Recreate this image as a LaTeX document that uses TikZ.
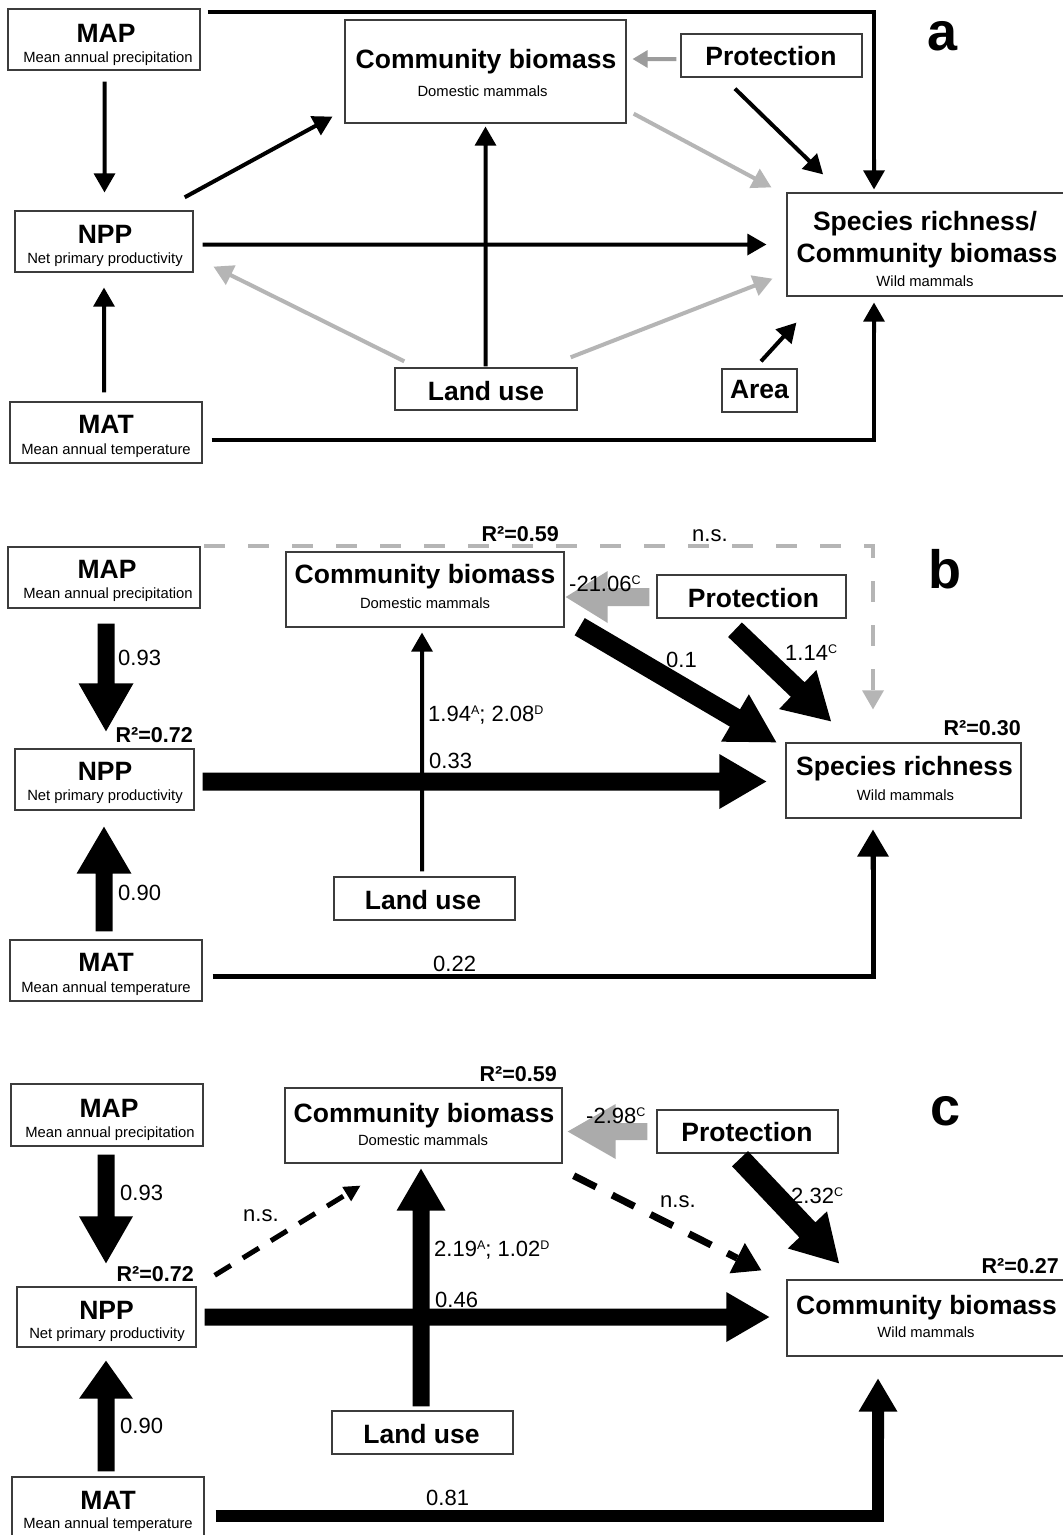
\documentclass[tikz,border=0pt]{standalone}
\usepackage{fontspec}
\usepackage{graphicx}
\setmainfont{Liberation Sans}
\usetikzlibrary{calc}

\definecolor{boxline}{HTML}{3C3C3C}
\definecolor{lightarrow}{HTML}{B5B5B5}
\definecolor{midarrow}{HTML}{9C9C9C}
\definecolor{bigarrow}{HTML}{ABABAB}

% filled block arrow: [colour]{start}{tip}{shaft width}{head width}{head length}
\newcommand\blockarrow[6][black]{%
  \coordinate (baS) at #2;
  \coordinate (baE) at #3;
  \coordinate (baH) at ($(baE)!#6!(baS)$);
  \fill[#1] ($(baS)!#4/2!90:(baE)$) -- ($(baH)!#4/2!90:(baE)$)
    -- ($(baH)!#5/2!90:(baE)$) -- (baE) -- ($(baH)!#5/2!-90:(baE)$)
    -- ($(baH)!#4/2!-90:(baE)$) -- ($(baS)!#4/2!-90:(baE)$) -- cycle;}
% thin connector with a small head
\newcommand\thinarrow[3][black]{\blockarrow[#1]{#2}{#3}{4pt}{22pt}{19pt}}
% triangular head only: [colour]{base}{tip}{width}
\newcommand\arrowtip[4][black]{%
  \coordinate (atB) at #2;
  \coordinate (atT) at #3;
  \fill[#1] ($(atB)!#4/2!90:(atT)$) -- (atT) -- ($(atB)!#4/2!-90:(atT)$) -- cycle;}
% small raised index letter
\newcommand\sps[1]{\raisebox{7pt}{\fontsize{12.5}{13}\selectfont #1}}

\begin{document}
\begin{tikzpicture}[x=1pt,y=-1pt,
  nodebox/.style={draw=boxline, line width=1.4pt, rectangle, inner sep=0pt, fill=white},
  ttl/.style={font=\fontsize{26.5}{30}\selectfont\bfseries, inner sep=0pt, anchor=base},
  subtxt/.style={font=\fontsize{14.8}{17}\selectfont, inner sep=0pt, anchor=base},
  numlbl/.style={font=\fontsize{22}{26}\selectfont, inner sep=0pt, anchor=base west},
  rsq/.style={font=\fontsize{21.5}{26}\selectfont\bfseries, inner sep=0pt, anchor=base east},
  panellbl/.style={font=\fontsize{54}{60}\selectfont\bfseries, inner sep=0pt, anchor=base},
  graydash/.style={draw=lightarrow, line width=3.5pt, dash pattern=on 21pt off 23pt}]
\useasboundingbox (0,0) rectangle (1063,1535);
\fill[white] (0,0) rectangle (1063,1535);

%================ panel a ================
\node[nodebox, minimum width=192pt, minimum height=61pt] (mapA) at (104,39.5) {};
\node[nodebox, minimum width=178pt, minimum height=61pt] (nppA) at (104,241.5) {};
\node[nodebox, minimum width=192pt, minimum height=61pt] (matA) at (106,432.5) {};
\node[nodebox, minimum width=281pt, minimum height=103pt] (domA) at (485.5,71.5) {};
\node[nodebox, minimum width=181pt, minimum height=43pt] (protA) at (771.5,55.5) {};
\node[nodebox, minimum width=278pt, minimum height=103pt] (spA) at (926,244.5) {};
\node[nodebox, minimum width=182pt, minimum height=42pt] (landA) at (486,389) {};
\node[nodebox, minimum width=75pt, minimum height=43pt] (areaA) at (759.5,390.5) {};

\node[ttl] (mapAt) at (106,42) {MAP};
\node[subtxt] (mapAs) at (108,62) {Mean annual precipitation};
\node[ttl] (nppAt) at (105,243) {NPP};
\node[subtxt] (nppAs) at (105,263) {Net primary productivity};
\node[ttl] (matAt) at (106,433) {MAT};
\node[subtxt] (matAs) at (106,454) {Mean annual temperature};
\node[ttl] (domAt) at (486,68) {Community biomass};
\node[subtxt] (domAs) at (482.5,96) {Domestic mammals};
\node[ttl] (protAt) at (771,65.5) {Protection};
\node[ttl] (spAt1) at (925,230) {Species richness/};
\node[ttl] (spAt2) at (927,262) {Community biomass};
\node[subtxt] (spAs) at (925,286) {Wild mammals};
\node[ttl] (landAt) at (486,400) {Land use};
\node[ttl] (areaAt) at (759.5,398) {Area};
\node[panellbl] (labA) at (943,50) {a};

\thinarrow{($(mapA.south)+(0.5,11)$)}{($(nppA.north)+(0.5,-18)$)}
\thinarrow{($(matA.north)+(-2,-9)$)}{($(nppA.south)+(0,15)$)}
\thinarrow{($(nppA.north east)+(-9,-13)$)}{($(domA.south west)+(-12,-7)$)}
\thinarrow{($(nppA.east)+(9,3)$)}{($(spA.west)+(-20,0)$)}
\thinarrow{($(landA.north)+(-0.5,-1)$)}{($(domA.south)+(0,3)$)}
\blockarrow[midarrow]{($(protA.west)+(-4,3.5)$)}{($(domA.east)+(6,-12.5)$)}{4pt}{18pt}{15pt}
\thinarrow{($(protA.south)+(-36.5,11)$)}{($(spA.north)+(-103,-18)$)}
\thinarrow[lightarrow]{($(domA.south east)+(7,-10)$)}{($(spA.north west)+(-15,-5)$)}
\thinarrow[lightarrow]{($(landA.north west)+(10,-6)$)}{($(nppA.south east)+(20,-6)$)}
\thinarrow[lightarrow]{($(landA.north east)+(-7,-10)$)}{($(spA.south west)+(-14,-18)$)}
\thinarrow{($(areaA.north)+(1.5,-7)$)}{($(spA.south west)+(10,26)$)}

\coordinate (aTs) at ($(mapA.north east)+(7,3.5)$);
\coordinate (aTt) at ($(spA.north)+(-52,-3)$);
\draw[line width=4pt] (aTs) -| ($(aTt)+(0,-10)$);
\thinarrow{($(aTt)+(0,-30)$)}{(aTt)}
\coordinate (aBs) at ($(matA.east)+(9,7.5)$);
\coordinate (aBt) at ($(spA.south)+(-52,6)$);
\draw[line width=4pt] (aBs) -| ($(aBt)+(0,10)$);
\thinarrow{($(aBt)+(0,30)$)}{(aBt)}

%================ panel b ================
\coordinate (bDs) at (204,546);
\node[nodebox, minimum width=192pt, minimum height=61pt] (mapB) at (104,577.5) {};
\node[nodebox, minimum width=278pt, minimum height=75pt] (domB) at (425,589.5) {};
\node[nodebox, minimum width=189pt, minimum height=43pt] (protB) at (751.5,596.5) {};
\node[nodebox, minimum width=179pt, minimum height=61pt] (nppB) at (104.5,779.5) {};
\node[nodebox, minimum width=235pt, minimum height=75pt] (spB) at (903.5,780.5) {};
\node[nodebox, minimum width=181pt, minimum height=43pt] (landB) at (424.5,898.5) {};
\node[nodebox, minimum width=192pt, minimum height=61pt] (matB) at (106,970.5) {};

% non-significant path
\coordinate (bDt) at ($(spB.north)+(-30.5,-33)$);
\draw[graydash] (bDs) -| ($(bDt)+(0,-19)$);
\arrowtip[lightarrow]{($(bDt)+(0,-19)$)}{(bDt)}{22pt}

\node[ttl] (mapBt) at (107,578) {MAP};
\node[subtxt] (mapBs) at (108,598) {Mean annual precipitation};
\node[ttl] (nppBt) at (105,780) {NPP};
\node[subtxt] (nppBs) at (105,800) {Net primary productivity};
\node[ttl] (matBt) at (106,971) {MAT};
\node[subtxt] (matBs) at (106,992) {Mean annual temperature};
\node[ttl] (domBt) at (425,583) {Community biomass};
\node[subtxt] (domBs) at (425,608) {Domestic mammals};
\node[ttl] (protBt) at (753.5,607) {Protection};
\node[ttl] (landBt) at (423,909) {Land use};
\node[ttl] (spBt) at (904.5,775) {Species richness};
\node[subtxt] (spBs) at (905.5,800) {Wild mammals};
\node[panellbl] (labB) at (945,588) {b};

\blockarrow{($(mapB.south)+(2,15)$)}{($(nppB.north)+(1.5,-17)$)}{17pt}{55pt}{48pt}
\blockarrow{($(matB.north)+(-2,-8)$)}{($(nppB.south)+(-0.5,16)$)}{17pt}{55pt}{47pt}
\blockarrow{($(nppB.east)+(8,2)$)}{($(spB.west)+(-19,1)$)}{18pt}{55pt}{47pt}
\thinarrow{($(landB.north)+(-2.5,-5)$)}{($(domB.south)+(-3,5)$)}
\blockarrow{($(domB.south east)+(15,-1)$)}{($(spB.north west)+(-9,0)$)}{20pt}{55pt}{48pt}
\blockarrow{($(protB.south)+(-16.5,11)$)}{($(spB.north)+(-72.5,-21)$)}{20pt}{54pt}{46pt}
\blockarrow[bigarrow]{($(protB.west)+(-7,0.5)$)}{($(domB.east)+(1,7.5)$)}{18pt}{52pt}{42pt}
\coordinate (bLs) at ($(matB.east)+(10,6)$);
\coordinate (bLt) at ($(spB.south)+(-30.5,11)$);
\draw[line width=5pt] (bLs) -| ($(bLt)+(0,12)$);
\blockarrow{($(bLt)+(0,40)$)}{(bLt)}{5pt}{32pt}{27pt}

\node[rsq] (bR59) at (559,541) {R²=0.59};
\node[numlbl] (bns) at (692,541) {n.s.};
\node[rsq] (bR72) at (193,742) {R²=0.72};
\node[rsq] (bR30) at (1021,735) {R²=0.30};
\node[numlbl] (b93) at (118,665) {0.93};
\node[numlbl] (b90) at (118,900) {0.90};
\node[numlbl] (b33) at (429,768) {0.33};
\node[numlbl] (bland) at (428,721) {1.94\sps{A}; 2.08\sps{D}};
\node[numlbl] (b22) at (433,971) {0.22};
\node[numlbl] (bprot) at (569,591) {-21.06\sps{C}};
\node[numlbl] (b01) at (666,667) {0.1};
\node[numlbl] (b114) at (785,660) {1.14\sps{C}};

%================ panel c ================
\node[nodebox, minimum width=192pt, minimum height=62pt] (mapC) at (107,1115) {};
\node[nodebox, minimum width=277pt, minimum height=75pt] (domC) at (423.5,1125.5) {};
\node[nodebox, minimum width=181pt, minimum height=43pt] (protC) at (747.5,1131.5) {};
\node[nodebox, minimum width=179pt, minimum height=60pt] (nppC) at (106.5,1317) {};
\node[nodebox, minimum width=279pt, minimum height=76pt] (wildC) at (926.5,1318) {};
\node[nodebox, minimum width=181pt, minimum height=43pt] (landC) at (422.5,1432.5) {};
\node[nodebox, minimum width=192pt, minimum height=61pt] (matC) at (108,1507.5) {};

\node[ttl] (mapCt) at (109,1117) {MAP};
\node[subtxt] (mapCs) at (110,1137) {Mean annual precipitation};
\node[ttl] (nppCt) at (106.5,1319) {NPP};
\node[subtxt] (nppCs) at (107,1338) {Net primary productivity};
\node[ttl] (matCt) at (108,1509) {MAT};
\node[subtxt] (matCs) at (108,1528.5) {Mean annual temperature};
\node[ttl] (domCt) at (424,1122) {Community biomass};
\node[subtxt] (domCs) at (423,1145) {Domestic mammals};
\node[ttl] (protCt) at (747,1141) {Protection};
\node[ttl] (landCt) at (421.5,1443) {Land use};
\node[ttl] (wildCt) at (926.5,1314) {Community biomass};
\node[subtxt] (wildCs) at (926,1337) {Wild mammals};
\node[panellbl] (labC) at (946,1125) {c};

\blockarrow{($(mapC.south)+(-1,8)$)}{($(nppC.north)+(-0.5,-23)$)}{17pt}{54pt}{47pt}
\blockarrow{($(matC.north)+(-2,-5)$)}{($(nppC.south)+(-0.5,13)$)}{17pt}{54pt}{38pt}
\blockarrow{($(nppC.east)+(8,0)$)}{($(wildC.west)+(-17,-1)$)}{17pt}{50pt}{43pt}
\blockarrow{($(landC.north)+(-1.5,-4)$)}{($(domC.south)+(-2.5,5)$)}{17pt}{49pt}{42pt}
\blockarrow{($(protC.south)+(-7.5,5)$)}{($(wildC.north)+(-87.5,-16)$)}{22pt}{54pt}{46pt}
\blockarrow[bigarrow]{($(protC.west)+(-9,0)$)}{($(domC.east)+(5,6)$)}{17pt}{55pt}{48pt}
\coordinate (cLs) at ($(matC.east)+(11,8.5)$);
\coordinate (cLt) at ($(wildC.south)+(-48.5,22)$);
\draw[line width=12pt] (cLs) -| ($(cLt)+(0,20)$);
\blockarrow{($(cLt)+(0,60)$)}{(cLt)}{12pt}{39pt}{33pt}

% non-significant paths
\coordinate (cNs) at ($(nppC.north east)+(18,-11)$);
\coordinate (cNt) at ($(domC.south west)+(76,22)$);
\coordinate (cNh) at ($(cNt)!16pt!(cNs)$);
\draw[line width=5pt, dash pattern=on 19pt off 14pt] (cNs) -- (cNh);
\arrowtip{(cNh)}{(cNt)}{17pt}
\coordinate (cDs) at ($(domC.south east)+(11,12)$);
\coordinate (cDt) at ($(wildC.north west)+(-25,-9)$);
\coordinate (cDh) at ($(cDt)!27pt!(cDs)$);
\draw[line width=7pt, dash pattern=on 25pt off 18pt] (cDs) -- (cDh);
\arrowtip{(cDh)}{(cDt)}{34pt}

\node[rsq] (cR59) at (557,1081) {R²=0.59};
\node[rsq] (cR72) at (194,1281) {R²=0.72};
\node[rsq] (cR27) at (1059,1273) {R²=0.27};
\node[numlbl] (c93) at (120,1200) {0.93};
\node[numlbl] (c90) at (120,1433) {0.90};
\node[numlbl] (cnsl) at (243,1221) {n.s.};
\node[numlbl] (cland) at (434,1256) {2.19\sps{A}; 1.02\sps{D}};
\node[numlbl] (c46) at (435,1307) {0.46};
\node[numlbl] (c81) at (426,1505) {0.81};
\node[numlbl] (cprot) at (586,1123) {-2.98\sps{C}};
\node[numlbl] (cnsr) at (660,1207) {n.s.};
\node[numlbl] (c232) at (791,1203) {2.32\sps{C}};
\end{tikzpicture}
\end{document}
